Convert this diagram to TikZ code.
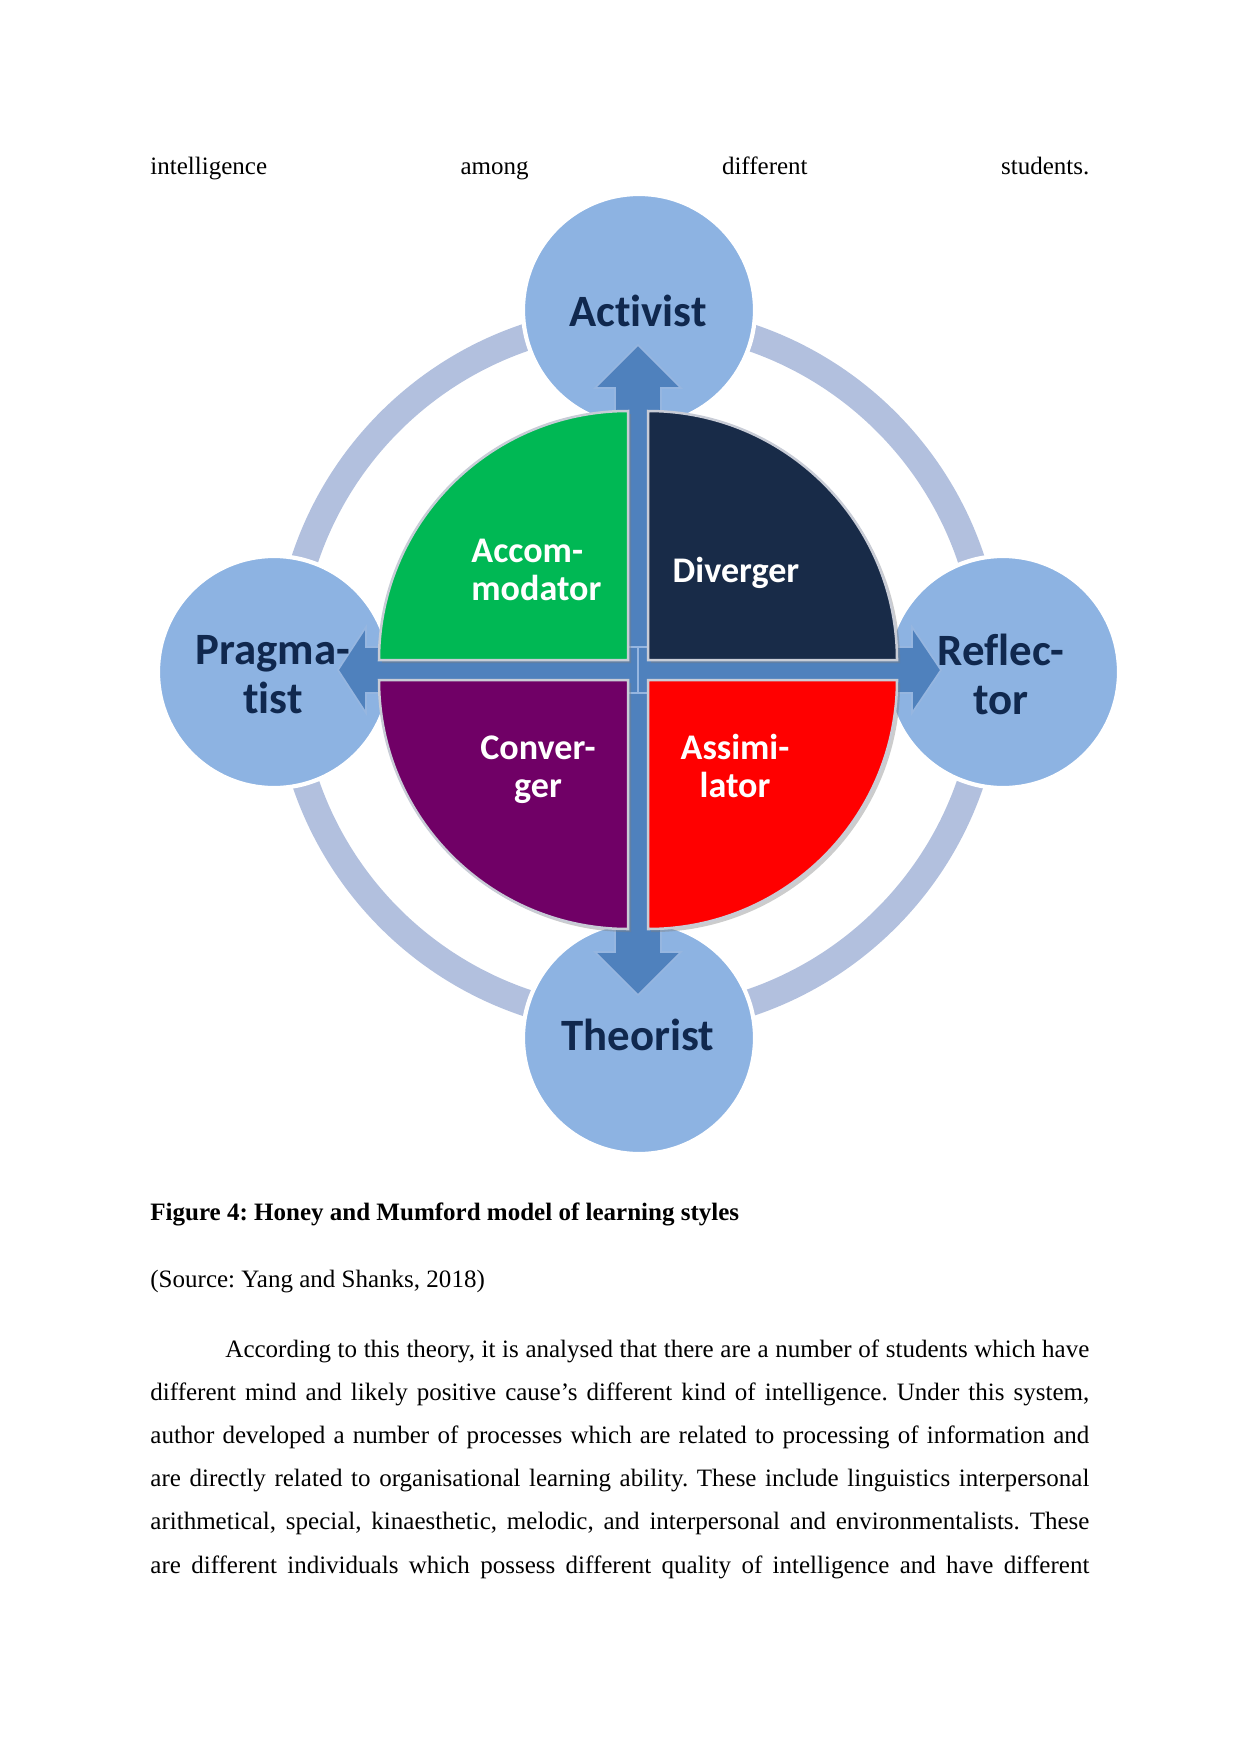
\documentclass[tikz,border=0pt]{standalone}
\usepackage{fontspec}
\setmainfont{Liberation Serif}
\newfontfamily\lblfont{Carlito}[Ligatures=NoCommon]
\usetikzlibrary{shadows}
\frenchspacing

\definecolor{ringblue}{RGB}{178,192,222}
\definecolor{satblue}{RGB}{141,179,226}
\definecolor{arrowblue}{RGB}{79,129,189}
\definecolor{arrowedge}{RGB}{150,182,224}
\definecolor{labelnavy}{RGB}{16,40,78}
\definecolor{accgreen}{RGB}{0,184,84}
\definecolor{divnavy}{RGB}{24,43,72}
\definecolor{conpurple}{RGB}{112,0,102}
\definecolor{assred}{RGB}{255,0,0}
\definecolor{quadedge}{RGB}{200,204,214}

\newcommand{\fullline}[1]{\hbox to 450.4pt{#1}}

\tikzset{
  satcircle/.style={circle, fill=satblue, draw=white, line width=2pt, minimum size=111.3pt, inner sep=0pt},
  satlabel/.style={font=\lblfont\bfseries\fontsize{21.5}{23.5}\selectfont, text=labelnavy, align=center, inner sep=0pt},
  quadbox/.style={draw=quadedge, line width=1.2pt, drop shadow={opacity=0.4, shadow xshift=1.5pt, shadow yshift=-1.5pt}},
  quadlabel/.style={font=\lblfont\bfseries\fontsize{17.3}{18.2}\selectfont, text=white, align=center, inner sep=0pt},
  bodyline/.style={anchor=base west, inner sep=0pt, font=\fontsize{12}{14}\selectfont},
}

\begin{document}
\begin{tikzpicture}[x=0.4797pt, y=0.4797pt]
\useasboundingbox (0,0) rectangle (1241,-1754);

\node[bodyline] (topline) at (150,-174) {\fullline{intelligence\hfill among\hfill different\hfill students.}};

\coordinate (mid) at (638,-670);

% ring
\draw[ringblue, line width=13pt] (mid) circle[radius=351];

% styles round the ring
\node[satcircle] (act) at (639,-310) {};
\node[satcircle] (prag) at (274,-672) {};
\node[satcircle] (refl) at (1003,-672) {};
\node[satcircle] (theo) at (639,-1038) {};

% cross arrow
\begin{scope}[shift={(mid)}]
\foreach \ang/\len/\hl in {90/325/43, 270/325/43, 0/303/29, 180/300/28}
  \filldraw[fill=arrowblue, draw=arrowedge, line width=0.8pt, rotate=\ang]
    (0,-23) -- (\len-\hl,-23) -- (\len-\hl,-43) -- (\len,0) -- (\len-\hl,43) -- (\len-\hl,23) -- (0,23) -- cycle;

% quadrants
\filldraw[quadbox, fill=accgreen] (-10,10) -- (-259,10) arc[start angle=180, end angle=90, radius=249] -- cycle;
\filldraw[quadbox, fill=divnavy] (10,10) -- (10,259) arc[start angle=90, end angle=0, radius=249] -- cycle;
\filldraw[quadbox, fill=conpurple] (-10,-10) -- (-259,-10) arc[start angle=180, end angle=270, radius=249] -- cycle;
\filldraw[quadbox, fill=assred] (10,-10) -- (259,-10) arc[start angle=0, end angle=-90, radius=249] -- cycle;
\end{scope}

\node[satlabel] (actlbl) at (638,-311) {Activist};
\node[satlabel] (praglbl) at (273,-675) {Pragma-\\tist};
\node[satlabel] (refllbl) at (1001,-674) {Reflec-\\tor};
\node[satlabel] (theolbl) at (638,-1035) {Theorist};

\node[quadlabel, anchor=west, align=left] (acclbl) at (471,-570) {Accom-\\modator};
\node[quadlabel] (divlbl) at (736,-573) {Diverger};
\node[quadlabel] (conlbl) at (538,-770) {Conver-\\ger};
\node[quadlabel] (asslbl) at (735,-766) {Assimi-\\lator};

% caption and text below
\node[bodyline, font=\bfseries\fontsize{12}{14}\selectfont] (caption) at (150,-1220) {Figure 4: Honey and Mumford model of learning styles};
\node[bodyline] (source) at (150,-1287) {(Source: Yang and Shanks, 2018)};

\node[bodyline] (p1) at (150,-1357) {\fullline{\hspace{36pt}According to this theory, it is analysed that there are a number of students which have}};
\node[bodyline] (p2) at (150,-1400) {\fullline{different mind and likely positive cause’s different kind of intelligence. Under this system,}};
\node[bodyline] (p3) at (150,-1443) {\fullline{author developed a number of processes which are related to processing of information and}};
\node[bodyline] (p4) at (150,-1486) {\fullline{are directly related to organisational learning ability. These include linguistics interpersonal}};
\node[bodyline] (p5) at (150,-1529) {\fullline{arithmetical, special, kinaesthetic, melodic, and interpersonal and environmentalists. These}};
\node[bodyline] (p6) at (150,-1573) {\fullline{are different individuals which possess different quality of intelligence and have different}};

\end{tikzpicture}
\end{document}
